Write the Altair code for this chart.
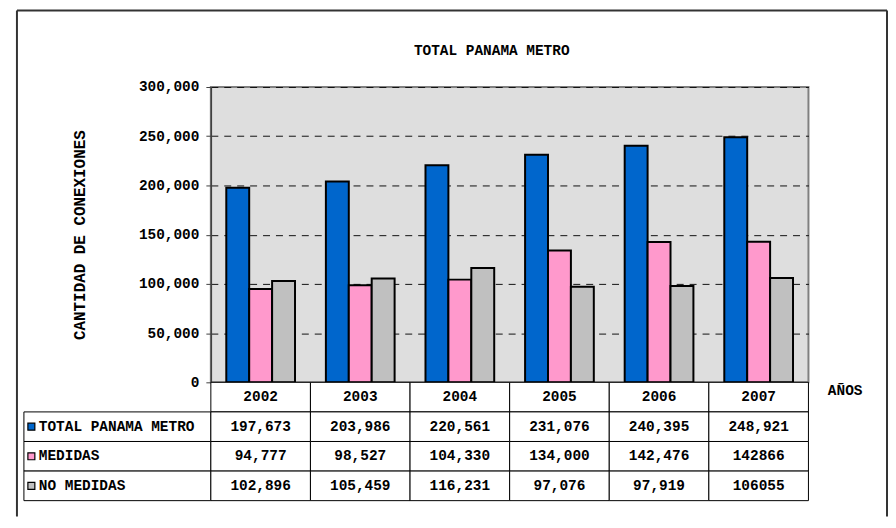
import altair as alt
import pandas as pd

years = ["2002", "2003", "2004", "2005", "2006", "2007"]
series = ["TOTAL PANAMA METRO", "MEDIDAS", "NO MEDIDAS"]
total = [197673, 203986, 220561, 231076, 240395, 248921]
medidas = [94777, 98527, 104330, 134000, 142476, 142866]
no_medidas = [102896, 105459, 116231, 97076, 97919, 106055]
total_labels = ["197,673", "203,986", "220,561", "231,076", "240,395", "248,921"]
medidas_labels = ["94,777", "98,527", "104,330", "134,000", "142,476", "142866"]
no_medidas_labels = ["102,896", "105,459", "116,231", "97,076", "97,919", "106055"]
colors = ["#0066CC", "#FF99CC", "#C0C0C0"]
y_ticks = [0, 50000, 100000, 150000, 200000, 250000, 300000]

FONT = "'Courier New', 'Liberation Mono', 'DejaVu Sans Mono', monospace"
FS = 14.5

rows = ["AÑO"] + series

bar_records = []
for s, vals in zip(series, [total, medidas, no_medidas]):
    for y, v in zip(years, vals):
        bar_records.append({"year": y, "serie": s, "value": v})
bars_df = pd.DataFrame(bar_records)

table_records = [{"row": "AÑO", "year": y, "label": y} for y in years]
for s, labs in zip(series, [total_labels, medidas_labels, no_medidas_labels]):
    for y, l in zip(years, labs):
        table_records.append({"row": s, "year": y, "label": l})
table_df = pd.DataFrame(table_records)

label_df = pd.DataFrame({"row": series, "label": series})

W, H = 601, 297
LW, TH = 188, 119

bars = alt.Chart(bars_df).mark_bar(stroke="black", strokeWidth=2).encode(
    x=alt.X("year:N", sort=years,
            scale=alt.Scale(paddingInner=0.31, paddingOuter=0.155),
            axis=alt.Axis(title="AÑOS", labels=False, ticks=False,
                          domainColor="#404040", domainWidth=1.5,
                          titleX=620, titleY=8, titleAlign="left",
                          titleBaseline="middle", titleFont=FONT,
                          titleFontSize=FS, titleFontWeight="bold",
                          titleColor="black")),
    xOffset=alt.XOffset("serie:N", sort=series,
                        scale=alt.Scale(paddingInner=0, paddingOuter=0)),
    y=alt.Y("value:Q", scale=alt.Scale(domain=[0, 300000]),
            axis=alt.Axis(values=y_ticks, format=",.0f",
                          title="CANTIDAD DE CONEXIONES",
                          titleX=-132, titleY=H / 2, titleAngle=270,
                          titleAlign="center", titleBaseline="middle",
                          titleFont=FONT, titleFontSize=16,
                          titleFontWeight="bold", titleColor="black",
                          labelFont=FONT, labelFontSize=FS,
                          labelFontWeight="bold", labelColor="black",
                          labelPadding=7, tickSize=5, tickColor="#404040",
                          domainColor="#404040", domainWidth=1.5,
                          grid=True, gridColor="#111111", gridDash=[7, 6],
                          gridWidth=1)),
    color=alt.Color("serie:N", sort=series,
                    scale=alt.Scale(domain=series, range=colors), legend=None),
).properties(
    width=W, height=H,
    title=alt.TitleParams("TOTAL PANAMA METRO", font=FONT, fontSize=FS,
                          fontWeight="bold", color="black", anchor="middle",
                          dx=-18, offset=21),
    view=alt.ViewBackground(fill="#dedede", stroke="#808080", strokeWidth=2),
)

# decorative outer frame of the whole chart (left, top and right edges),
# drawn from the empty top-left cell
frame_df = pd.DataFrame({"f": [0]})
frame_style = dict(color="#333333", strokeWidth=2, clip=False)
frame_left = alt.Chart(frame_df).mark_rule(**frame_style).encode(
    x=alt.value(-7), y=alt.value(-77), y2=alt.value(432))
frame_right = alt.Chart(frame_df).mark_rule(**frame_style).encode(
    x=alt.value(868), y=alt.value(-77), y2=alt.value(432))
frame_top = alt.Chart(frame_df).mark_rule(**frame_style).encode(
    x=alt.value(-7), x2=alt.value(868), y=alt.value(-77))
empty = alt.layer(frame_left, frame_right, frame_top).properties(
    width=LW, height=H)

row_y = alt.Y("row:N", sort=rows,
              scale=alt.Scale(domain=rows, paddingInner=0, paddingOuter=0),
              axis=None)

lab_rect = alt.Chart(label_df).mark_rect(fill="white", stroke="black",
                                         strokeWidth=1).encode(y=row_y)
lab_text = alt.Chart(label_df).mark_text(
    align="left", dx=15 - LW / 2, font=FONT, fontSize=FS, fontWeight="bold",
    color="black").encode(y=row_y, text="label:N")
lab_sq = alt.Chart(label_df).mark_square(
    size=49, stroke="black", strokeWidth=1.2, opacity=1,
    xOffset=7.5 - LW / 2).encode(
    y=row_y,
    color=alt.Color("row:N", scale=alt.Scale(domain=series, range=colors),
                    legend=None))
labelcol = alt.layer(lab_rect, lab_text, lab_sq).properties(width=LW, height=TH)

col_x = alt.X("year:N", sort=years,
              scale=alt.Scale(domain=years, paddingInner=0, paddingOuter=0),
              axis=None)
tab_rect = alt.Chart(table_df).mark_rect(fill="white", stroke="black",
                                         strokeWidth=1).encode(x=col_x, y=row_y)
tab_text = alt.Chart(table_df).mark_text(
    font=FONT, fontSize=FS, fontWeight="bold", color="black").encode(
    x=col_x, y=row_y, text="label:N")
table = alt.layer(tab_rect, tab_text).properties(width=W, height=TH)

chart = alt.concat(empty, bars, labelcol, table, columns=2, spacing=0,
                   bounds="flush").properties(
    padding={"left": 8, "top": 0, "right": 0, "bottom": 0},
    background="white",
).configure_view(stroke=None)

chart.save("out.html", embed_options={"renderer": "svg", "actions": False})
